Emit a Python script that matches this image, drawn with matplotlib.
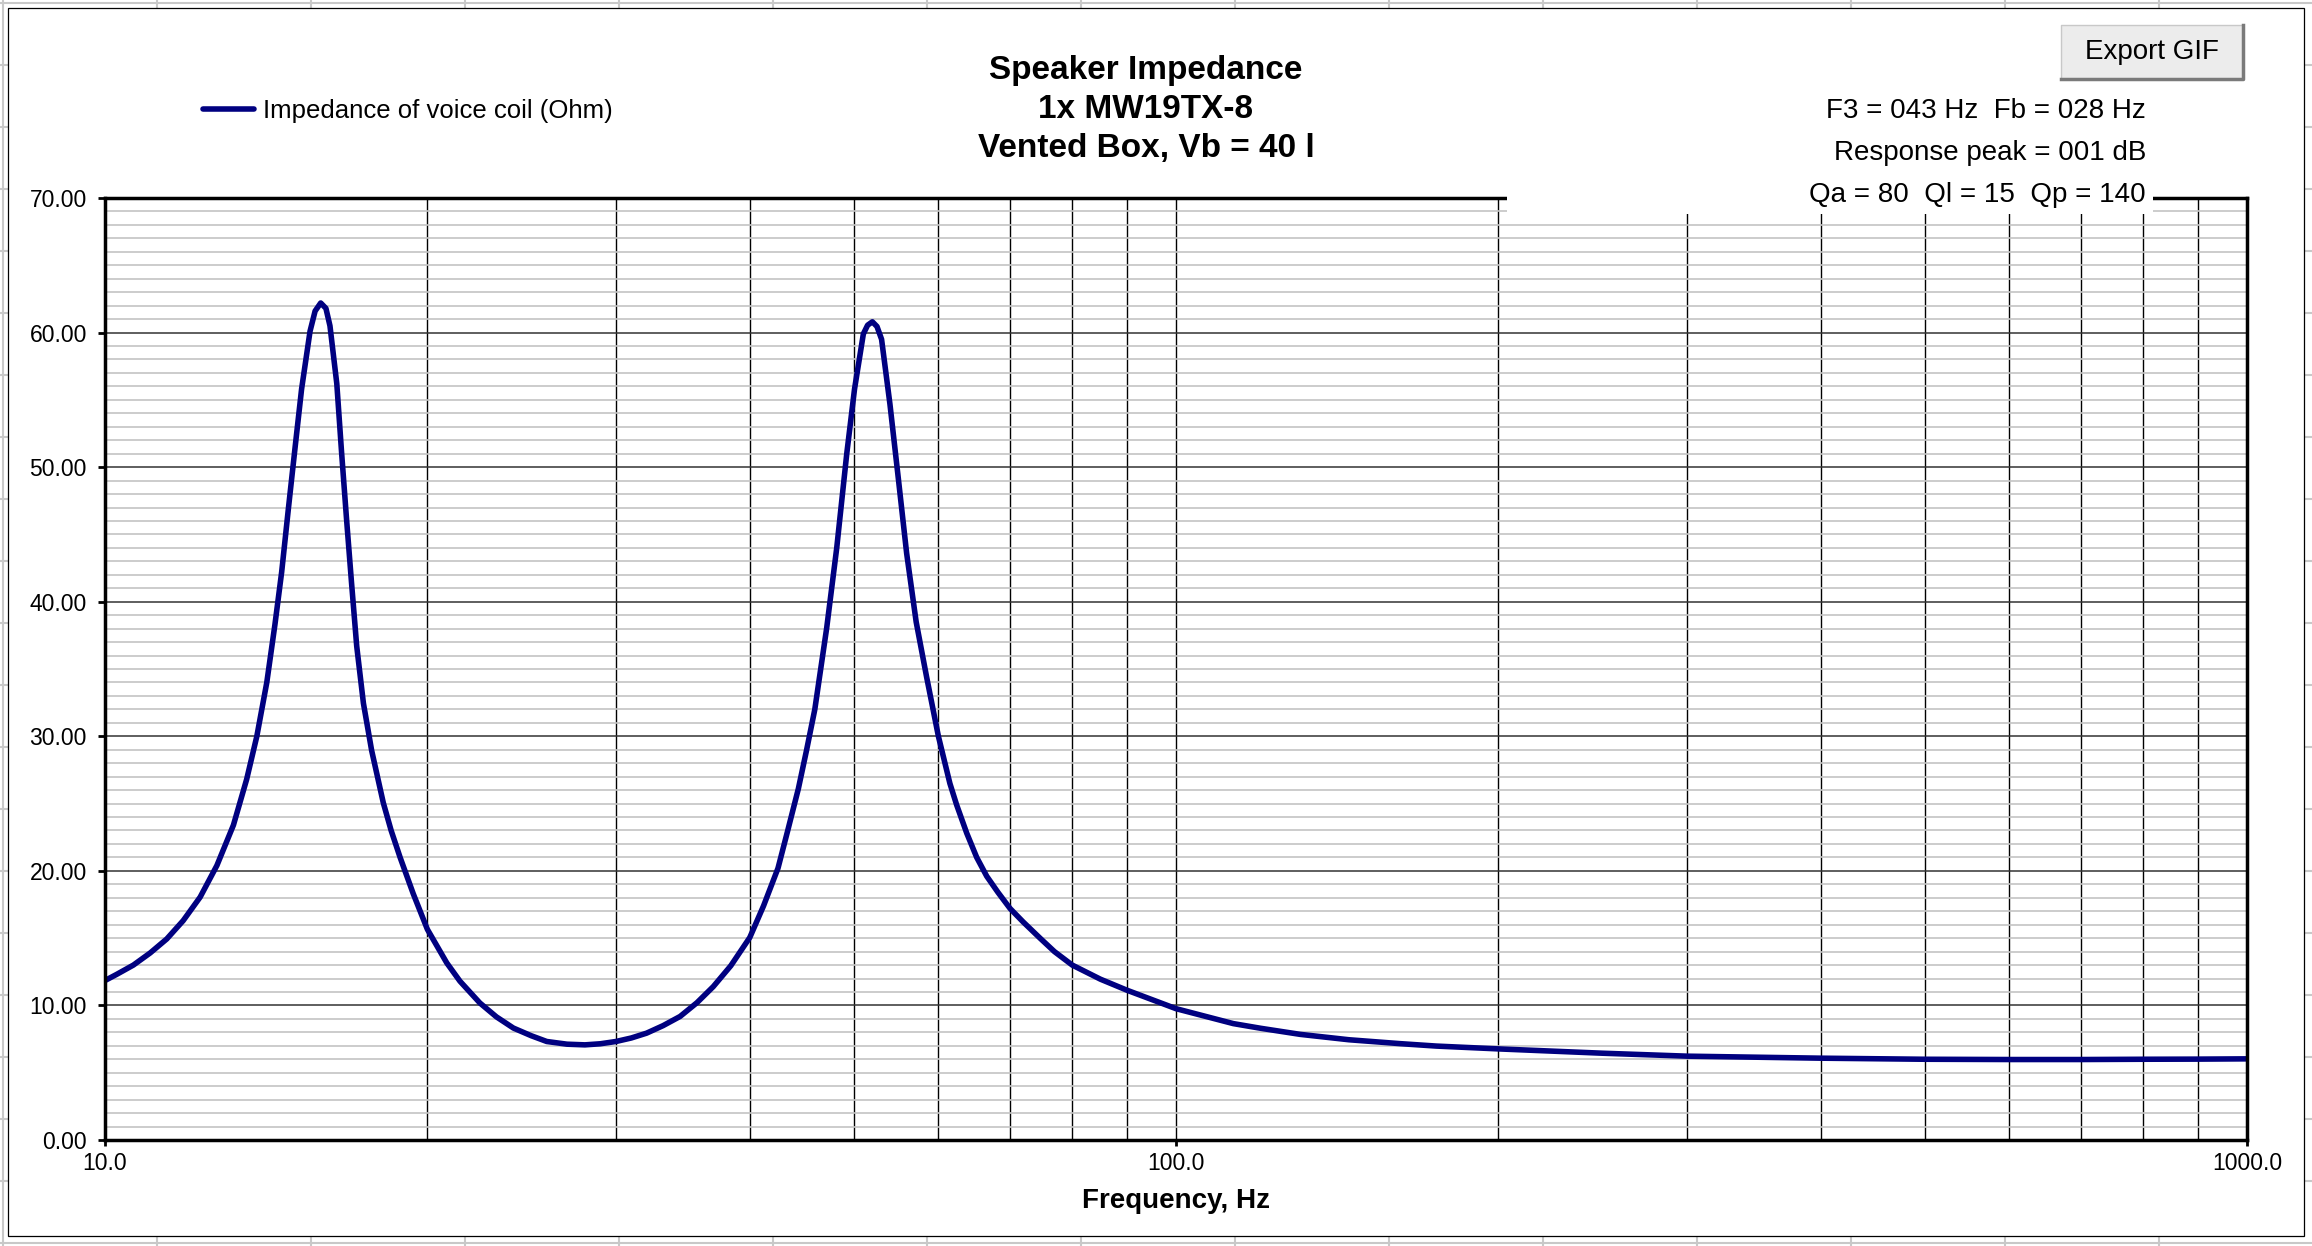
import numpy as np
import matplotlib
matplotlib.use("Agg")
import matplotlib.pyplot as plt
from matplotlib.patches import Rectangle
from matplotlib.lines import Line2D
from matplotlib.ticker import MultipleLocator, LogLocator, NullFormatter, FormatStrFormatter

plt.rcParams['font.family'] = ['Liberation Sans', 'DejaVu Sans']

# Impedance curve (Hz, Ohm)
freq_hz = [10.0, 10.25, 10.63, 11.02, 11.42, 11.83, 12.27, 12.72, 13.18, 13.56,
           13.86, 14.16, 14.41, 14.62, 14.83, 15.05, 15.26, 15.54, 15.71, 15.90,
           16.08, 16.22, 16.46, 16.63, 16.81, 16.99, 17.18, 17.43, 17.74, 18.19,
           18.5, 18.86, 19.4, 20.0, 20.85, 21.45, 22.39, 23.2, 24.06, 25.0,
           25.85, 27.0, 28.06, 29.0, 30.0, 31.0, 32.04, 33.2, 34.43, 35.7,
           36.98, 38.4, 40.0, 41.2, 42.5, 43.4, 44.4, 45.2, 46.0, 47.19,
           48.22, 49.27, 50.1, 51.06, 51.53, 52.06, 52.58, 53.1, 54.06, 55.04,
           56.04, 57.2, 58.5, 60.0, 61.5, 62.4, 63.77, 65.15, 66.57, 68.2,
           70.0, 72.0, 74.65, 77.0, 80.0, 85.0, 90.0, 100.0, 113.1, 120.0,
           130.6, 145.0, 161.9, 175.0, 200.0, 250.0, 300.0, 400.0, 500.0, 600.0,
           700.0, 800.0, 900.0, 1000.0]
impedance_ohm = [11.85, 12.3, 13.0, 13.9, 14.94, 16.3, 18.05, 20.4, 23.4, 26.8,
                 30.0, 34.0, 38.3, 42.2, 46.85, 51.5, 55.8, 60.1, 61.6, 62.2,
                 61.8, 60.5, 56.2, 51.1, 46.1, 41.4, 36.7, 32.45, 28.95, 25.06,
                 23.0, 21.0, 18.3, 15.65, 13.16, 11.8, 10.18, 9.15, 8.32, 7.75,
                 7.32, 7.12, 7.07, 7.15, 7.32, 7.58, 7.94, 8.5, 9.18, 10.2,
                 11.4, 12.95, 15.05, 17.4, 20.2, 23.0, 26.1, 29.0, 32.0, 38.05,
                 44.0, 51.0, 55.8, 59.9, 60.55, 60.8, 60.45, 59.5, 54.7, 49.2,
                 43.6, 38.5, 34.4, 30.0, 26.5, 24.9, 22.8, 21.0, 19.6, 18.4,
                 17.2, 16.2, 15.0, 14.0, 13.0, 11.95, 11.13, 9.76, 8.65, 8.3,
                 7.85, 7.45, 7.16, 6.98, 6.77, 6.45, 6.23, 6.08, 6.0, 5.98,
                 5.98, 6.0, 6.01, 6.03]

x_ticks = [10, 100, 1000]
x_tick_labels = ["10.0", "100.0", "1000.0"]
title_lines = ["Speaker Impedance", "1x MW19TX-8", "Vented Box, Vb = 40 l"]
stats_lines = ["F3 = 043 Hz  Fb = 028 Hz", "Response peak = 001 dB", "Qa = 80  Ql = 15  Qp = 140"]
series_label = "Impedance of voice coil (Ohm)"

W, H = 2312, 1246
def fx(px):
    return px / W
def fy(py):
    return 1 - py / H

fig = plt.figure(figsize=(W / 100, H / 100), dpi=100)

# spreadsheet cells behind the chart
for x in range(3, W, 154):
    fig.add_artist(Line2D([fx(x)] * 2, [0, 1], color='#c8c8c8', lw=1.5, zorder=0.1))
for y in range(3, H, 62):
    fig.add_artist(Line2D([0, 1], [fy(y)] * 2, color='#c8c8c8', lw=1.5, zorder=0.1))
fig.add_artist(Rectangle((fx(8), fy(1236)), fx(2304) - fx(8), fy(8) - fy(1236),
                         facecolor='white', edgecolor='black', lw=0.9, zorder=0.2))

ax = fig.add_axes([fx(105), fy(1140), fx(2247) - fx(105), fy(198) - fy(1140)])
ax.set_zorder(1)
ax.plot(freq_hz, impedance_ohm, color='#000080', lw=4.0, solid_joinstyle='round',
        solid_capstyle='round', label=series_label)

ax.set_xscale('log')
ax.set_xlim(10, 1000)
ax.set_ylim(0, 70)
ax.set_xticks(x_ticks, x_tick_labels)
ax.xaxis.set_minor_locator(LogLocator(base=10, subs=np.arange(2, 10)))
ax.xaxis.set_minor_formatter(NullFormatter())
ax.yaxis.set_major_locator(MultipleLocator(10))
ax.yaxis.set_minor_locator(MultipleLocator(1))
ax.yaxis.set_major_formatter(FormatStrFormatter('%.2f'))

ax.set_axisbelow(True)
ax.grid(True, which='minor', axis='y', color='#c4c4c4', lw=1.2)
ax.grid(True, which='major', axis='y', color='#333333', lw=1.1)
ax.grid(True, which='both', axis='x', color='#000000', lw=1.0)

for s in ax.spines.values():
    s.set_linewidth(2.5)
    s.set_color('black')
ax.tick_params(which='major', axis='y', direction='out', length=5, width=2, pad=8, labelsize=16.5)
ax.tick_params(which='major', axis='x', direction='out', length=4.5, width=2, pad=4, labelsize=16.5)
ax.tick_params(which='minor', length=0)

fig.text(fx(1176), fy(1208), "Frequency, Hz", ha='center', va='baseline',
         fontsize=20, fontweight='bold')

# title block
for i, line in enumerate(title_lines):
    fig.text(fx(1146), fy(79 + 39 * i), line, ha='center', va='baseline',
             fontsize=24, fontweight='bold')

# legend
fig.legend(loc='center left', bbox_to_anchor=(fx(203), fy(111)), frameon=False,
           fontsize=18.5, handlelength=2.0, handletextpad=0.35, borderaxespad=0, borderpad=0)

# white stats box covering the top of the plot area
fig.add_artist(Rectangle((fx(1507), fy(214)), fx(2153) - fx(1507), fy(85) - fy(214),
                         facecolor='white', edgecolor='none', zorder=2))
for i, line in enumerate(stats_lines):
    fig.text(fx(2146), fy(118 + 42 * i), line, ha='right', va='baseline',
             fontsize=20, zorder=3)

# Export GIF button
bx0, by0, bx1, by1 = 2061, 25, 2243, 79
fig.add_artist(Rectangle((fx(bx0), fy(by1)), fx(bx1) - fx(bx0), fy(by0) - fy(by1),
                         facecolor='#ececec', edgecolor='none', zorder=2))
fig.add_artist(Line2D([fx(bx0), fx(bx0), fx(bx1)], [fy(by1), fy(by0), fy(by0)],
                      color='#c8c8c8', lw=1, zorder=3))
fig.add_artist(Line2D([fx(bx0), fx(bx1), fx(bx1)], [fy(by1), fy(by1), fy(by0)],
                      color='#7a7a7a', lw=2.5, zorder=3))
fig.text(fx((bx0 + bx1) / 2), fy(52), "Export GIF", ha='center', va='center',
         fontsize=20, zorder=4)

fig.savefig("out.png", dpi=100)
